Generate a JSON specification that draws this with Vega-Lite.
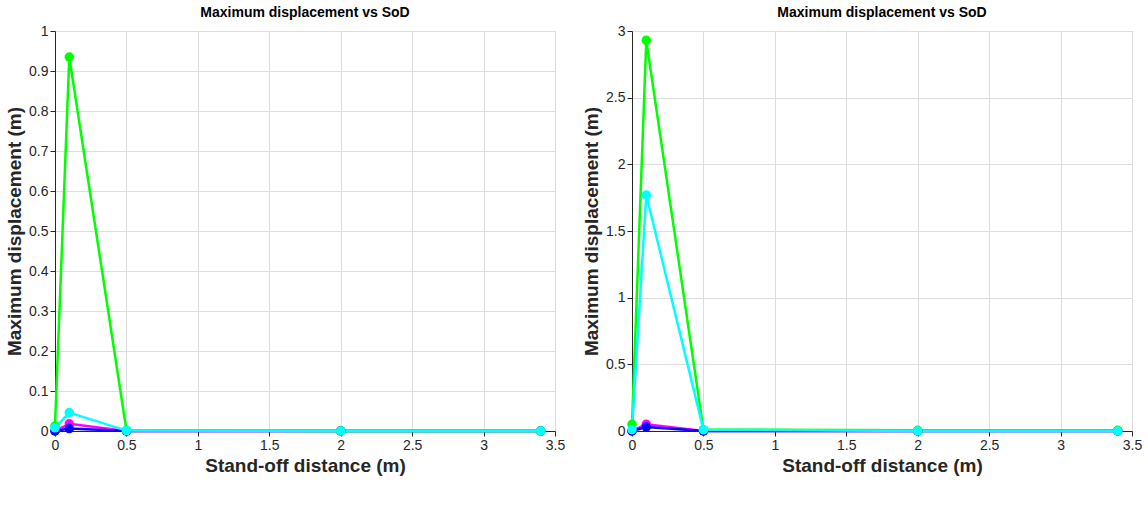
{
  "$schema": "https://vega.github.io/schema/vega-lite/v6.json",
  "background": "white",
  "spacing": 16,
  "datasets": {
    "a": [
      {"series": "MS 30 mm 1 Kg TNT", "sod": 0, "disp": 0},
      {"series": "MS 30 mm 1 Kg TNT", "sod": 0.1, "disp": 0.018},
      {"series": "MS 30 mm 1 Kg TNT", "sod": 0.5, "disp": 0},
      {"series": "MS 30 mm 1 Kg TNT", "sod": 2, "disp": 0},
      {"series": "MS 30 mm 1 Kg TNT", "sod": 3.4, "disp": 0},
      {"series": "MS 40 mm 1 Kg TNT", "sod": 0, "disp": 0},
      {"series": "MS 40 mm 1 Kg TNT", "sod": 0.1, "disp": 0.006},
      {"series": "MS 40 mm 1 Kg TNT", "sod": 0.5, "disp": 0},
      {"series": "MS 40 mm 1 Kg TNT", "sod": 2, "disp": 0},
      {"series": "MS 40 mm 1 Kg TNT", "sod": 3.4, "disp": 0},
      {"series": "EGF 30 mm 1 Kg TNT", "sod": 0, "disp": 0.012},
      {"series": "EGF 30 mm 1 Kg TNT", "sod": 0.1, "disp": 0.935},
      {"series": "EGF 30 mm 1 Kg TNT", "sod": 0.5, "disp": 0.002},
      {"series": "EGF 30 mm 1 Kg TNT", "sod": 2, "disp": 0},
      {"series": "EGF 30 mm 1 Kg TNT", "sod": 3.4, "disp": 0},
      {"series": "EGF 40 mm 1 Kg TNT", "sod": 0, "disp": 0.008},
      {"series": "EGF 40 mm 1 Kg TNT", "sod": 0.1, "disp": 0.046},
      {"series": "EGF 40 mm 1 Kg TNT", "sod": 0.5, "disp": 0.001},
      {"series": "EGF 40 mm 1 Kg TNT", "sod": 2, "disp": 0},
      {"series": "EGF 40 mm 1 Kg TNT", "sod": 3.4, "disp": 0}
    ],
    "b": [
      {"series": "MS 30 mm 3 Kg TNT", "sod": 0, "disp": 0},
      {"series": "MS 30 mm 3 Kg TNT", "sod": 0.1, "disp": 0.05},
      {"series": "MS 30 mm 3 Kg TNT", "sod": 0.5, "disp": 0},
      {"series": "MS 30 mm 3 Kg TNT", "sod": 2, "disp": 0},
      {"series": "MS 30 mm 3 Kg TNT", "sod": 3.4, "disp": 0},
      {"series": "MS 40 mm 3 Kg TNT", "sod": 0, "disp": 0},
      {"series": "MS 40 mm 3 Kg TNT", "sod": 0.1, "disp": 0.03},
      {"series": "MS 40 mm 3 Kg TNT", "sod": 0.5, "disp": 0},
      {"series": "MS 40 mm 3 Kg TNT", "sod": 2, "disp": 0},
      {"series": "MS 40 mm 3 Kg TNT", "sod": 3.4, "disp": 0},
      {"series": "EGF 30 mm 3 Kg TNT", "sod": 0, "disp": 0.05},
      {"series": "EGF 30 mm 3 Kg TNT", "sod": 0.1, "disp": 2.93},
      {"series": "EGF 30 mm 3 Kg TNT", "sod": 0.5, "disp": 0.01},
      {"series": "EGF 30 mm 3 Kg TNT", "sod": 2, "disp": 0.005},
      {"series": "EGF 30 mm 3 Kg TNT", "sod": 3.4, "disp": 0.005},
      {"series": "EGF 40 mm 3 Kg TNT", "sod": 0, "disp": 0.01},
      {"series": "EGF 40 mm 3 Kg TNT", "sod": 0.1, "disp": 1.77},
      {"series": "EGF 40 mm 3 Kg TNT", "sod": 0.5, "disp": 0.01},
      {"series": "EGF 40 mm 3 Kg TNT", "sod": 2, "disp": 0},
      {"series": "EGF 40 mm 3 Kg TNT", "sod": 3.4, "disp": 0}
    ]
  },
  "hconcat": [
    {
      "width": 500,
      "height": 400,
      "title": {"text": "Maximum displacement vs SoD", "fontSize": 14, "font": "Liberation Sans", "color": "black"},
      "data": {"name": "a"},
      "mark": {"type": "line", "strokeWidth": 2.5, "point": {"filled": true, "size": 90}},
      "encoding": {
        "x": {"field": "sod", "type": "quantitative", "scale": {"domain": [0, 3.5], "nice": false}, "title": "Stand-off distance (m)", "axis": {"values": [0, 0.5, 1, 1.5, 2, 2.5, 3, 3.5], "format": "~g", "labelFlush": false, "labelFontSize": 14, "labelFont": "Liberation Sans", "labelColor": "#262626", "titleFontSize": 19, "titleFont": "Liberation Sans", "titleColor": "#262626", "tickColor": "#262626", "domainColor": "#262626"}},
        "y": {"field": "disp", "type": "quantitative", "scale": {"domain": [0, 1], "nice": false}, "title": "Maximum displacement (m)", "axis": {"values": [0, 0.1, 0.2, 0.3, 0.4, 0.5, 0.6, 0.7, 0.8, 0.9, 1], "format": "~g", "labelFlush": false, "labelFontSize": 14, "labelFont": "Liberation Sans", "labelColor": "#262626", "titleFontSize": 19, "titleFont": "Liberation Sans", "titleColor": "#262626", "tickColor": "#262626", "domainColor": "#262626"}},
        "color": {"field": "series", "type": "nominal", "scale": {"domain": ["MS 30 mm 1 Kg TNT", "MS 40 mm 1 Kg TNT", "EGF 30 mm 1 Kg TNT", "EGF 40 mm 1 Kg TNT"], "range": ["#ff00ff", "#0000ff", "#00ff00", "#00ffff"]}, "legend": null}
      }
    },
    {
      "width": 500,
      "height": 400,
      "title": {"text": "Maximum displacement vs SoD", "fontSize": 14, "font": "Liberation Sans", "color": "black"},
      "data": {"name": "b"},
      "mark": {"type": "line", "strokeWidth": 2.5, "point": {"filled": true, "size": 90}},
      "encoding": {
        "x": {"field": "sod", "type": "quantitative", "scale": {"domain": [0, 3.5], "nice": false}, "title": "Stand-off distance (m)", "axis": {"values": [0, 0.5, 1, 1.5, 2, 2.5, 3, 3.5], "format": "~g", "labelFlush": false, "labelFontSize": 14, "labelFont": "Liberation Sans", "labelColor": "#262626", "titleFontSize": 19, "titleFont": "Liberation Sans", "titleColor": "#262626", "tickColor": "#262626", "domainColor": "#262626"}},
        "y": {"field": "disp", "type": "quantitative", "scale": {"domain": [0, 3], "nice": false}, "title": "Maximum displacement (m)", "axis": {"values": [0, 0.5, 1, 1.5, 2, 2.5, 3], "format": "~g", "labelFlush": false, "labelFontSize": 14, "labelFont": "Liberation Sans", "labelColor": "#262626", "titleFontSize": 19, "titleFont": "Liberation Sans", "titleColor": "#262626", "tickColor": "#262626", "domainColor": "#262626"}},
        "color": {"field": "series", "type": "nominal", "scale": {"domain": ["MS 30 mm 3 Kg TNT", "MS 40 mm 3 Kg TNT", "EGF 30 mm 3 Kg TNT", "EGF 40 mm 3 Kg TNT"], "range": ["#ff00ff", "#0000ff", "#00ff00", "#00ffff"]}, "legend": null}
      }
    }
  ]
}
